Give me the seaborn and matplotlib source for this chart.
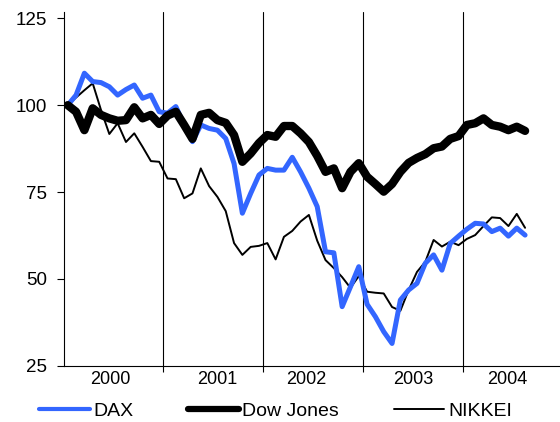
import matplotlib
matplotlib.use("Agg")
import matplotlib.pyplot as plt
import pandas as pd
import seaborn as sns

# monthly index values, Jan 2000 = 100 (Jan 2000 .. Aug 2004)
months = list(range(56))

dax = [100, 102.9, 109.2, 106.8, 106.5, 105.3, 102.9, 104.5, 105.8, 102.0,
       102.9, 98.1, 97.7, 99.6, 94.3, 89.5, 94.3, 93.3, 92.8, 90.4,
       83.2, 68.9, 74.6, 79.9, 81.8, 81.3, 81.3, 85.0, 80.8, 76.1,
       70.8, 57.8, 57.5, 42.0, 47.7, 53.5, 42.7, 39.1, 34.8, 31.4,
       43.9, 46.8, 48.7, 54.5, 56.9, 52.5, 60.2, 62.3, 64.3, 66.0,
       65.8, 63.6, 64.6, 62.3, 64.6, 62.6]

dow = [100, 98.1, 92.8, 99.1, 97.2, 96.2, 95.5, 95.7, 99.4, 96.2,
       97.2, 94.6, 97.0, 98.1, 94.3, 90.3, 97.2, 97.8, 95.7, 94.9,
       91.4, 83.7, 86.1, 89.1, 91.4, 90.9, 94.0, 94.0, 91.9, 89.4,
       85.4, 80.8, 81.8, 76.1, 80.8, 83.3, 79.4, 77.3, 75.1, 77.3,
       80.8, 83.4, 84.8, 85.9, 87.6, 88.1, 90.3, 91.1, 94.3, 94.8,
       96.2, 94.3, 93.8, 92.8, 93.8, 92.6]

nikkei = [100, 102.2, 104.3, 106.3, 98.6, 91.7, 94.8, 89.4, 91.9, 88.0,
          83.9, 83.7, 78.9, 78.7, 73.2, 74.6, 81.8, 76.7, 73.6, 69.5,
          60.3, 56.9, 59.2, 59.5, 60.3, 55.6, 62.1, 63.8, 66.5, 68.4,
          61.0, 55.4, 53.1, 50.5, 47.4, 50.8, 46.3, 46.0, 45.8, 41.9,
          40.8, 46.8, 52.0, 54.9, 61.2, 59.3, 60.7, 59.7, 61.5, 62.6,
          65.2, 67.7, 67.5, 65.2, 68.7, 64.7]

years = ['2000', '2001', '2002', '2003', '2004']
year_label_pos = [5.1, 18.0, 28.7, 41.6, 52.8]
year_bounds = [11.5, 23.5, 35.5, 47.5]

df = pd.DataFrame({'month': months, 'DAX': dax, 'Dow Jones': dow, 'NIKKEI': nikkei})
df_long = df.melt(id_vars='month', var_name='index', value_name='value')

sns.set_style('white')
plt.rcParams['font.family'] = ['Liberation Sans', 'DejaVu Sans']
plt.rcParams['text.color'] = 'black'
plt.rcParams['xtick.color'] = 'black'
plt.rcParams['ytick.color'] = 'black'
plt.rcParams['xtick.labelcolor'] = 'black'
plt.rcParams['ytick.labelcolor'] = 'black'

fig = plt.figure(figsize=(5.6, 4.22), dpi=100)
ax = fig.add_axes([0.1143, 0.1334, 0.8857, 0.838])

palette = {'DAX': '#3366ff', 'Dow Jones': '#000000', 'NIKKEI': '#000000'}
widths = {'DAX': 3.6, 'Dow Jones': 6.0, 'NIKKEI': 1.4}

for name in ['NIKKEI', 'DAX', 'Dow Jones']:
    sub = df_long[df_long['index'] == name]
    sns.lineplot(data=sub, x='month', y='value', ax=ax, color=palette[name],
                 linewidth=widths[name], label=name, legend=False,
                 solid_joinstyle='round', solid_capstyle='round')

for b in year_bounds:
    ax.axvline(b, color='black', linewidth=0.8, zorder=0)

ax.set_xlim(-0.45, 59.2)
ax.set_ylim(25, 126.8)
ax.set_yticks([25, 50, 75, 100, 125])

ax.set_xticks(year_bounds)
ax.set_xticklabels([])
ax.set_xticks(year_label_pos, minor=True)
ax.set_xticklabels(years, minor=True)
ax.tick_params(axis='x', which='major', direction='out', length=4, width=0.8,
               bottom=True, color='black')
ax.tick_params(axis='x', which='minor', length=0, pad=3.5, labelsize=13,
               labelcolor='black')
ax.tick_params(axis='y', direction='out', length=5, width=0.8, left=True,
               color='black', pad=7, labelsize=13.5, labelcolor='black')

ax.set_xlabel('')
ax.set_ylabel('')
sns.despine(ax=ax)
for s in ['left', 'bottom']:
    ax.spines[s].set_color('black')
    ax.spines[s].set_linewidth(0.8)

leg_widths = {'DAX': 3.0, 'Dow Jones': 4.5, 'NIKKEI': 1.4}
handles = [plt.Line2D([], [], color=palette[n], linewidth=leg_widths[n],
                      solid_capstyle='round') for n in ['DAX', 'Dow Jones', 'NIKKEI']]
fig.legend(handles, ['DAX', 'Dow Jones', 'NIKKEI'], loc='center',
           bbox_to_anchor=(0.492, 0.026), ncol=3, frameon=False,
           fontsize=14, handlelength=2.6, handletextpad=0.2,
           columnspacing=2.8, borderpad=0.1, labelcolor='black')

fig.savefig('out.png', dpi=100)
